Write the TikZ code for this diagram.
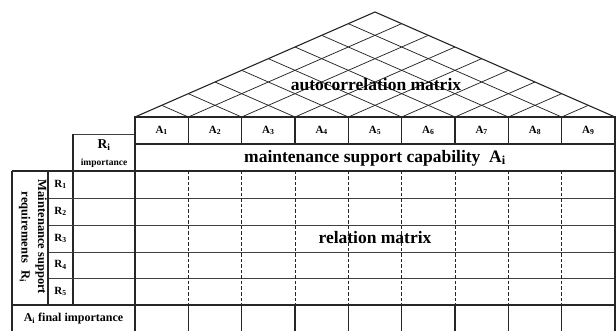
\documentclass[tikz,border=0pt]{standalone}
\usepackage{fontspec}
\setmainfont{Liberation Serif}
\usetikzlibrary{calc}
\begin{document}
\begin{tikzpicture}[x=1pt,y=-1pt,
  heavy/.style={line width=1.1pt, black!85},
  light/.style={line width=0.8pt, black!75},
  roofline/.style={line width=0.75pt, black!85},
  dashline/.style={line width=0.9pt, black!85, dash pattern=on 3.5pt off 2pt},
  bigtxt/.style={font=\fontsize{17.5}{20}\selectfont\bfseries, inner sep=0pt},
  coltxt/.style={font=\fontsize{11}{13}\selectfont\bfseries, inner sep=0pt},
  rowtxt/.style={font=\fontsize{11}{13}\selectfont\bfseries, inner sep=0pt},
]
\useasboundingbox (0,0) rectangle (616,331);
% key coordinates
\coordinate (L) at (135,117);
\coordinate (R) at (615,117);
\coordinate (T) at (375,12);
% roof grid
\foreach \k in {1,...,8}{
  \coordinate (B\k) at ($(L)!{\k/9}!(R)$);
  \draw[roofline] (B\k) -- ($(R)!{1-\k/9}!(T)$);
  \draw[roofline] (B\k) -- ($(L)!{\k/9}!(T)$);
}
\draw[heavy, line join=miter] (L) -- (T) -- (R);
% A row and capability row
\draw[heavy] (135,117) rectangle (615,144);
\draw[heavy] (135,144) rectangle (615,171);
\foreach \k in {1,...,8}{
  \draw[heavy] ($(L)!{\k/9}!(R)$) -- ++(0,27);
}
% R_i importance cell
\draw[light] (73,134) -- (135,134);
\draw[heavy] (73,134) -- (73,305);
% horizontal lines of the relation zone
\draw[heavy] (12,171) -- (615,171);
\foreach \y in {198,225,252,278}{
  \draw[light] (48,\y) -- (615,\y);
}
\draw[heavy] (12,305) -- (615,305);
% left verticals
\draw[heavy] (12,171) -- (12,331);
\draw[heavy] (48,171) -- (48,305);
\draw[heavy] (135,117) -- (135,331);
\draw[heavy] (615,117) -- (615,331);
% dashed verticals and final-row verticals
\foreach \k in {1,...,8}{
  \pgfmathsetmacro{\xx}{135+\k*480/9}
  \draw[dashline] (\xx,171) -- (\xx,305);
  \draw[heavy] (\xx,305) -- (\xx,331);
}
% texts
\node[bigtxt] (auto) at (376,85) {autocorrelation matrix};
\node[bigtxt] (cap) at (375,158) {maintenance support capability\ \ A\textsubscript{i}};
\node[bigtxt] (rel) at (375,238) {relation matrix};
\foreach \k in {1,...,9}{
  \pgfmathsetmacro{\xx}{135+(\k-0.5)*480/9}
  \node[coltxt] (A\k) at (\xx,130.5) {A\textsubscript{\k}};
}
\node[font=\fontsize{13.5}{15}\selectfont\bfseries, inner sep=0pt] (Rhead) at (104,145) {R\textsubscript{i}};
\node[font=\fontsize{9.5}{11}\selectfont\bfseries, inner sep=0pt] (imp) at (104,163) {importance};
\foreach \k/\y in {1/184.5,2/211.5,3/238.5,4/265,5/291.5}{
  \node[rowtxt] (R\k) at (60.5,\y) {R\textsubscript{\k}};
}
\node[rotate=-90, inner sep=0pt, align=center, font=\fontsize{12.5}{16.5}\selectfont\bfseries] (req) at (33,237)
  {Maintenance support\\ requirements\hspace{7pt}R\textsubscript{i}};
\node[font=\fontsize{12}{14}\selectfont\bfseries, inner sep=0pt] (fin) at (73.5,319) {A\textsubscript{i} final importance};
\end{tikzpicture}
\end{document}
